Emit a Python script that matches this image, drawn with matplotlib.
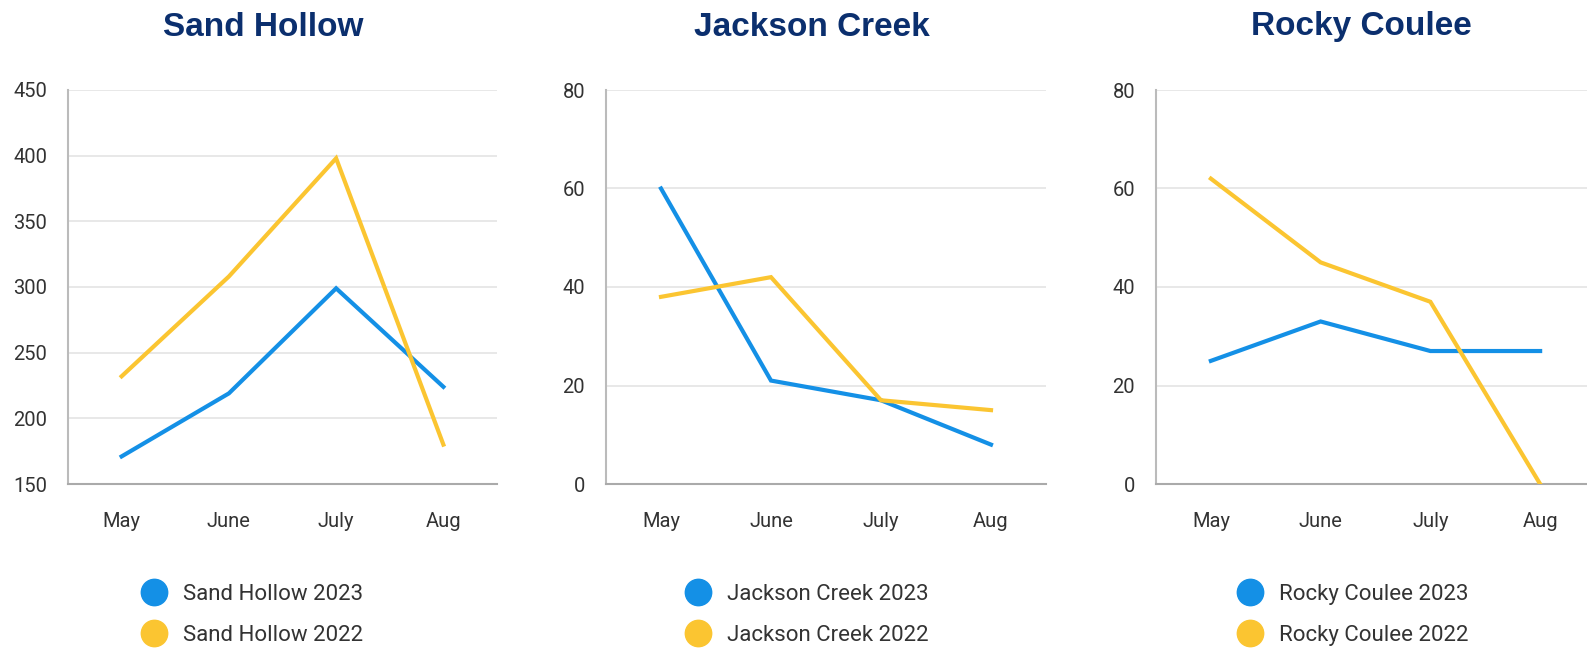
import matplotlib
matplotlib.use("Agg")
import matplotlib.pyplot as plt
from matplotlib.lines import Line2D

months = ["May", "June", "July", "Aug"]

sites = ["Sand Hollow", "Jackson Creek", "Rocky Coulee"]
values_2023 = [
    [171, 219, 299, 224],
    [60, 21, 17, 8],
    [25, 33, 27, 27],
]
values_2022 = [
    [232, 308, 398, 180],
    [38, 42, 17, 15],
    [62, 45, 37, 0],
]
y_ticks = [
    [150, 200, 250, 300, 350, 400, 450],
    [0, 20, 40, 60, 80],
    [0, 20, 40, 60, 80],
]

BLUE = "#1490E6"
YELLOW = "#FBC531"
NAVY = "#0B2F6E"
TEXT = "#333333"
W, H = 1587, 648

plt.rcParams["font.family"] = ["Roboto", "DejaVu Sans"]

fig = plt.figure(figsize=(W / 100, H / 100), dpi=100)

# pixel boxes (left, right) for each panel; top/bottom shared
panel_x = [(68, 497), (606, 1046), (1156, 1595)]
title_x = [263, 812, 1361]
legend_x = [143, 687, 1239]
top_px, bottom_px = 90, 484

for i, site in enumerate(sites):
    left, right = panel_x[i]
    ax = fig.add_axes([left / W, (H - bottom_px) / H, (right - left) / W,
                       (bottom_px - top_px) / H])
    x = range(len(months))
    ax.plot(x, values_2023[i], color=BLUE, lw=3, solid_joinstyle="miter",
            label=f"{site} 2023", zorder=3)
    ax.plot(x, values_2022[i], color=YELLOW, lw=3, solid_joinstyle="miter",
            label=f"{site} 2022", zorder=3)

    ax.set_xlim(-0.5, 3.5)
    ax.set_ylim(y_ticks[i][0], y_ticks[i][-1])
    ax.set_xticks(list(x))
    ax.set_xticklabels(months)
    ax.set_yticks(y_ticks[i])
    ax.tick_params(length=0, labelsize=14.5, colors=TEXT)
    ax.tick_params(axis="x", pad=20)
    ax.tick_params(axis="y", pad=15)
    ax.grid(axis="y", color="#E4E4E4", lw=1.2)
    ax.set_axisbelow(True)
    for s in ["top", "right"]:
        ax.spines[s].set_visible(False)
    for s in ["left", "bottom"]:
        ax.spines[s].set_color("#AAAAAA")
        ax.spines[s].set_linewidth(1.5)
    ax.spines["left"].set_color("#BBBBBB")

    fig.text(title_x[i] / W, 1 - 27 / H, site, ha="center", va="center",
             fontsize=24, fontweight="bold", color=NAVY,
             family=["Liberation Sans", "DejaVu Sans"])

    handles = [
        Line2D([], [], ls="none", marker="o", ms=19, color=BLUE, label=f"{site} 2023"),
        Line2D([], [], ls="none", marker="o", ms=19, color=YELLOW, label=f"{site} 2022"),
    ]
    fig.legend(handles=handles, loc="upper left",
               bbox_to_anchor=(legend_x[i] / W, 1 - 584 / H),
               frameon=False, fontsize=16, handlelength=1.0, handletextpad=0.8,
               labelspacing=0.9, borderpad=0, borderaxespad=0,
               labelcolor=TEXT)

fig.savefig("out.png", dpi=100, facecolor="white")
